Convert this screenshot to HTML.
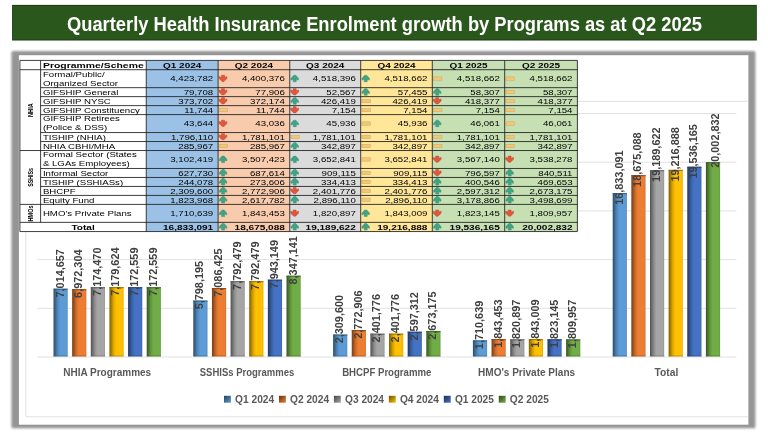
<!DOCTYPE html>
<html lang="en"><head><meta charset="utf-8"><title>Quarterly Health Insurance Enrolment growth by Programs as at Q2 2025</title><style>html,body{margin:0;padding:0;background:#fff;overflow:hidden}svg{display:block}</style></head><body>
<svg width="768" height="432" viewBox="0 0 768 432" font-family="'Liberation Sans', sans-serif">
<defs>
<filter id="soft" x="0" y="0" width="100%" height="100%" filterUnits="userSpaceOnUse"><feGaussianBlur stdDeviation="0.35"/></filter>
<filter id="sb" x="-5%" y="-5%" width="110%" height="110%"><feGaussianBlur stdDeviation="0.9"/></filter>

<linearGradient id="q1" x1="0" x2="1" y1="0" y2="0"><stop offset="0" stop-color="#2d4d6a"/><stop offset="0.1" stop-color="#386084"/><stop offset="0.28" stop-color="#4e85b7"/><stop offset="0.46" stop-color="#5b9bd5"/><stop offset="0.9" stop-color="#5b9bd5"/><stop offset="1" stop-color="#518bbf"/></linearGradient>
<linearGradient id="q2" x1="0" x2="1" y1="0" y2="0"><stop offset="0" stop-color="#763e18"/><stop offset="0.1" stop-color="#924d1e"/><stop offset="0.28" stop-color="#cb6b2a"/><stop offset="0.46" stop-color="#ed7d31"/><stop offset="0.9" stop-color="#ed7d31"/><stop offset="1" stop-color="#d5702c"/></linearGradient>
<linearGradient id="q3" x1="0" x2="1" y1="0" y2="0"><stop offset="0" stop-color="#525252"/><stop offset="0.1" stop-color="#666666"/><stop offset="0.28" stop-color="#8d8d8d"/><stop offset="0.46" stop-color="#a5a5a5"/><stop offset="0.9" stop-color="#a5a5a5"/><stop offset="1" stop-color="#949494"/></linearGradient>
<linearGradient id="q4" x1="0" x2="1" y1="0" y2="0"><stop offset="0" stop-color="#7f6000"/><stop offset="0.1" stop-color="#9e7700"/><stop offset="0.28" stop-color="#dba500"/><stop offset="0.46" stop-color="#ffc000"/><stop offset="0.9" stop-color="#ffc000"/><stop offset="1" stop-color="#e5ac00"/></linearGradient>
<linearGradient id="q5" x1="0" x2="1" y1="0" y2="0"><stop offset="0" stop-color="#223962"/><stop offset="0.1" stop-color="#2a4679"/><stop offset="0.28" stop-color="#3a62a8"/><stop offset="0.46" stop-color="#4472c4"/><stop offset="0.9" stop-color="#4472c4"/><stop offset="1" stop-color="#3d66b0"/></linearGradient>
<linearGradient id="q6" x1="0" x2="1" y1="0" y2="0"><stop offset="0" stop-color="#385623"/><stop offset="0.1" stop-color="#456b2c"/><stop offset="0.28" stop-color="#60943d"/><stop offset="0.46" stop-color="#70ad47"/><stop offset="0.9" stop-color="#70ad47"/><stop offset="1" stop-color="#649b3f"/></linearGradient>
<linearGradient id="mq1" x1="0" x2="1" y1="0" y2="1"><stop offset="0" stop-color="#264159"/><stop offset="1" stop-color="#5b9bd5"/></linearGradient>
<linearGradient id="mq2" x1="0" x2="1" y1="0" y2="1"><stop offset="0" stop-color="#633414"/><stop offset="1" stop-color="#ed7d31"/></linearGradient>
<linearGradient id="mq3" x1="0" x2="1" y1="0" y2="1"><stop offset="0" stop-color="#454545"/><stop offset="1" stop-color="#a5a5a5"/></linearGradient>
<linearGradient id="mq4" x1="0" x2="1" y1="0" y2="1"><stop offset="0" stop-color="#6b5000"/><stop offset="1" stop-color="#ffc000"/></linearGradient>
<linearGradient id="mq5" x1="0" x2="1" y1="0" y2="1"><stop offset="0" stop-color="#1c2f52"/><stop offset="1" stop-color="#4472c4"/></linearGradient>
<linearGradient id="mq6" x1="0" x2="1" y1="0" y2="1"><stop offset="0" stop-color="#2f481d"/><stop offset="1" stop-color="#70ad47"/></linearGradient>
</defs>
<rect width="768" height="432" fill="#fff"/>
<g filter="url(#soft)">
<rect x="12.1" y="4.9" width="744.7" height="35.6" fill="#1a3311"/>
<rect x="13" y="5.8" width="742.9" height="33.8" fill="#2c591d"/>
<text x="67.00" y="31.30" font-size="20" font-weight="bold" fill="#fff" textLength="635.00" lengthAdjust="spacingAndGlyphs">Quarterly Health Insurance Enrolment growth by Programs as at Q2 2025</text>
<rect x="11.4" y="51.0" width="744.0" height="377.2" rx="1.5" fill="#959595" filter="url(#sb)"/>
<rect x="18.9" y="55.2" width="729.5" height="369.5" fill="#fff"/>
<path d="M748.4 101.3 H25.8 V416.8 H748.4" fill="none" stroke="#d9d9d9" stroke-width="0.8"/>
<line x1="37.3" x2="736.3" y1="357.00" y2="357.00" stroke="#d9d9d9" stroke-width="0.8"/>
<line x1="37.3" x2="736.3" y1="308.30" y2="308.30" stroke="#d9d9d9" stroke-width="0.8"/>
<line x1="37.3" x2="736.3" y1="259.60" y2="259.60" stroke="#d9d9d9" stroke-width="0.8"/>
<line x1="37.3" x2="736.3" y1="210.90" y2="210.90" stroke="#d9d9d9" stroke-width="0.8"/>
<line x1="37.3" x2="736.3" y1="162.20" y2="162.20" stroke="#d9d9d9" stroke-width="0.8"/>
<line x1="37.3" x2="736.3" y1="113.50" y2="113.50" stroke="#d9d9d9" stroke-width="0.8"/>
<text x="63.20" y="375.70" font-size="10.2" font-weight="bold" fill="#595959" textLength="88.00" lengthAdjust="spacingAndGlyphs">NHIA Programmes</text>
<text x="199.75" y="375.70" font-size="10.2" font-weight="bold" fill="#595959" textLength="94.50" lengthAdjust="spacingAndGlyphs">SSHISs Programmes</text>
<text x="342.18" y="375.70" font-size="10.2" font-weight="bold" fill="#595959" textLength="89.25" lengthAdjust="spacingAndGlyphs">BHCPF Programme</text>
<text x="478.10" y="375.70" font-size="10.2" font-weight="bold" fill="#595959" textLength="97.00" lengthAdjust="spacingAndGlyphs">HMO's Private Plans</text>
<text x="654.52" y="375.70" font-size="10.2" font-weight="bold" fill="#595959" textLength="23.75" lengthAdjust="spacingAndGlyphs">Total</text>
<rect x="53.50" y="288.68" width="14.2" height="67.72" fill="url(#q1)"/><rect x="53.50" y="288.68" width="14.2" height="1.1" fill="#325575" opacity="0.8"/><rect x="53.50" y="355.50" width="14.2" height="0.9" fill="#365d7f" opacity="0.6"/>
<rect x="72.14" y="289.09" width="14.2" height="67.31" fill="url(#q2)"/><rect x="72.14" y="289.09" width="14.2" height="1.1" fill="#82441a" opacity="0.8"/><rect x="72.14" y="355.50" width="14.2" height="0.9" fill="#8e4b1d" opacity="0.6"/>
<rect x="90.78" y="287.12" width="14.2" height="69.28" fill="url(#q3)"/><rect x="90.78" y="287.12" width="14.2" height="1.1" fill="#5a5a5a" opacity="0.8"/><rect x="90.78" y="355.50" width="14.2" height="0.9" fill="#636363" opacity="0.6"/>
<rect x="109.42" y="287.07" width="14.2" height="69.33" fill="url(#q4)"/><rect x="109.42" y="287.07" width="14.2" height="1.1" fill="#8c6900" opacity="0.8"/><rect x="109.42" y="355.50" width="14.2" height="0.9" fill="#997300" opacity="0.6"/>
<rect x="128.06" y="287.14" width="14.2" height="69.26" fill="url(#q5)"/><rect x="128.06" y="287.14" width="14.2" height="1.1" fill="#253e6b" opacity="0.8"/><rect x="128.06" y="355.50" width="14.2" height="0.9" fill="#284475" opacity="0.6"/>
<rect x="146.70" y="287.14" width="14.2" height="69.26" fill="url(#q6)"/><rect x="146.70" y="287.14" width="14.2" height="1.1" fill="#3d5f27" opacity="0.8"/><rect x="146.70" y="355.50" width="14.2" height="0.9" fill="#43672a" opacity="0.6"/>
<rect x="193.30" y="300.53" width="14.2" height="55.87" fill="url(#q1)"/><rect x="193.30" y="300.53" width="14.2" height="1.1" fill="#325575" opacity="0.8"/><rect x="193.30" y="355.50" width="14.2" height="0.9" fill="#365d7f" opacity="0.6"/>
<rect x="211.94" y="287.98" width="14.2" height="68.42" fill="url(#q2)"/><rect x="211.94" y="287.98" width="14.2" height="1.1" fill="#82441a" opacity="0.8"/><rect x="211.94" y="355.50" width="14.2" height="0.9" fill="#8e4b1d" opacity="0.6"/>
<rect x="230.58" y="281.10" width="14.2" height="75.30" fill="url(#q3)"/><rect x="230.58" y="281.10" width="14.2" height="1.1" fill="#5a5a5a" opacity="0.8"/><rect x="230.58" y="355.50" width="14.2" height="0.9" fill="#636363" opacity="0.6"/>
<rect x="249.22" y="281.10" width="14.2" height="75.30" fill="url(#q4)"/><rect x="249.22" y="281.10" width="14.2" height="1.1" fill="#8c6900" opacity="0.8"/><rect x="249.22" y="355.50" width="14.2" height="0.9" fill="#997300" opacity="0.6"/>
<rect x="267.86" y="279.63" width="14.2" height="76.77" fill="url(#q5)"/><rect x="267.86" y="279.63" width="14.2" height="1.1" fill="#253e6b" opacity="0.8"/><rect x="267.86" y="355.50" width="14.2" height="0.9" fill="#284475" opacity="0.6"/>
<rect x="286.50" y="275.70" width="14.2" height="80.70" fill="url(#q6)"/><rect x="286.50" y="275.70" width="14.2" height="1.1" fill="#3d5f27" opacity="0.8"/><rect x="286.50" y="355.50" width="14.2" height="0.9" fill="#43672a" opacity="0.6"/>
<rect x="333.10" y="334.50" width="14.2" height="21.90" fill="url(#q1)"/><rect x="333.10" y="334.50" width="14.2" height="1.1" fill="#325575" opacity="0.8"/><rect x="333.10" y="355.50" width="14.2" height="0.9" fill="#365d7f" opacity="0.6"/>
<rect x="351.74" y="329.99" width="14.2" height="26.41" fill="url(#q2)"/><rect x="351.74" y="329.99" width="14.2" height="1.1" fill="#82441a" opacity="0.8"/><rect x="351.74" y="355.50" width="14.2" height="0.9" fill="#8e4b1d" opacity="0.6"/>
<rect x="370.38" y="333.61" width="14.2" height="22.79" fill="url(#q3)"/><rect x="370.38" y="333.61" width="14.2" height="1.1" fill="#5a5a5a" opacity="0.8"/><rect x="370.38" y="355.50" width="14.2" height="0.9" fill="#636363" opacity="0.6"/>
<rect x="389.02" y="333.61" width="14.2" height="22.79" fill="url(#q4)"/><rect x="389.02" y="333.61" width="14.2" height="1.1" fill="#8c6900" opacity="0.8"/><rect x="389.02" y="355.50" width="14.2" height="0.9" fill="#997300" opacity="0.6"/>
<rect x="407.66" y="331.70" width="14.2" height="24.70" fill="url(#q5)"/><rect x="407.66" y="331.70" width="14.2" height="1.1" fill="#253e6b" opacity="0.8"/><rect x="407.66" y="355.50" width="14.2" height="0.9" fill="#284475" opacity="0.6"/>
<rect x="426.30" y="330.96" width="14.2" height="25.44" fill="url(#q6)"/><rect x="426.30" y="330.96" width="14.2" height="1.1" fill="#3d5f27" opacity="0.8"/><rect x="426.30" y="355.50" width="14.2" height="0.9" fill="#43672a" opacity="0.6"/>
<rect x="472.90" y="340.34" width="14.2" height="16.06" fill="url(#q1)"/><rect x="472.90" y="340.34" width="14.2" height="1.1" fill="#325575" opacity="0.8"/><rect x="472.90" y="355.50" width="14.2" height="0.9" fill="#365d7f" opacity="0.6"/>
<rect x="491.54" y="339.04" width="14.2" height="17.36" fill="url(#q2)"/><rect x="491.54" y="339.04" width="14.2" height="1.1" fill="#82441a" opacity="0.8"/><rect x="491.54" y="355.50" width="14.2" height="0.9" fill="#8e4b1d" opacity="0.6"/>
<rect x="510.18" y="339.26" width="14.2" height="17.14" fill="url(#q3)"/><rect x="510.18" y="339.26" width="14.2" height="1.1" fill="#5a5a5a" opacity="0.8"/><rect x="510.18" y="355.50" width="14.2" height="0.9" fill="#636363" opacity="0.6"/>
<rect x="528.82" y="339.05" width="14.2" height="17.35" fill="url(#q4)"/><rect x="528.82" y="339.05" width="14.2" height="1.1" fill="#8c6900" opacity="0.8"/><rect x="528.82" y="355.50" width="14.2" height="0.9" fill="#997300" opacity="0.6"/>
<rect x="547.46" y="339.24" width="14.2" height="17.16" fill="url(#q5)"/><rect x="547.46" y="339.24" width="14.2" height="1.1" fill="#253e6b" opacity="0.8"/><rect x="547.46" y="355.50" width="14.2" height="0.9" fill="#284475" opacity="0.6"/>
<rect x="566.10" y="339.37" width="14.2" height="17.03" fill="url(#q6)"/><rect x="566.10" y="339.37" width="14.2" height="1.1" fill="#3d5f27" opacity="0.8"/><rect x="566.10" y="355.50" width="14.2" height="0.9" fill="#43672a" opacity="0.6"/>
<rect x="612.70" y="193.05" width="14.2" height="163.35" fill="url(#q1)"/><rect x="612.70" y="193.05" width="14.2" height="1.1" fill="#325575" opacity="0.8"/><rect x="612.70" y="355.50" width="14.2" height="0.9" fill="#365d7f" opacity="0.6"/>
<rect x="631.34" y="175.10" width="14.2" height="181.30" fill="url(#q2)"/><rect x="631.34" y="175.10" width="14.2" height="1.1" fill="#82441a" opacity="0.8"/><rect x="631.34" y="355.50" width="14.2" height="0.9" fill="#8e4b1d" opacity="0.6"/>
<rect x="649.98" y="170.09" width="14.2" height="186.31" fill="url(#q3)"/><rect x="649.98" y="170.09" width="14.2" height="1.1" fill="#5a5a5a" opacity="0.8"/><rect x="649.98" y="355.50" width="14.2" height="0.9" fill="#636363" opacity="0.6"/>
<rect x="668.62" y="169.83" width="14.2" height="186.57" fill="url(#q4)"/><rect x="668.62" y="169.83" width="14.2" height="1.1" fill="#8c6900" opacity="0.8"/><rect x="668.62" y="355.50" width="14.2" height="0.9" fill="#997300" opacity="0.6"/>
<rect x="687.26" y="166.72" width="14.2" height="189.68" fill="url(#q5)"/><rect x="687.26" y="166.72" width="14.2" height="1.1" fill="#253e6b" opacity="0.8"/><rect x="687.26" y="355.50" width="14.2" height="0.9" fill="#284475" opacity="0.6"/>
<rect x="705.90" y="162.17" width="14.2" height="194.23" fill="url(#q6)"/><rect x="705.90" y="162.17" width="14.2" height="1.1" fill="#3d5f27" opacity="0.8"/><rect x="705.90" y="355.50" width="14.2" height="0.9" fill="#43672a" opacity="0.6"/>
<text transform="translate(63.55 273.28) rotate(-90)" x="-24.19" y="0" font-size="10.2" font-weight="bold" fill="#404040" textLength="48.37" lengthAdjust="spacingAndGlyphs">7,014,657</text>
<text transform="translate(82.19 273.69) rotate(-90)" x="-24.19" y="0" font-size="10.2" font-weight="bold" fill="#404040" textLength="48.37" lengthAdjust="spacingAndGlyphs">6,972,304</text>
<text transform="translate(100.83 271.72) rotate(-90)" x="-24.19" y="0" font-size="10.2" font-weight="bold" fill="#404040" textLength="48.37" lengthAdjust="spacingAndGlyphs">7,174,470</text>
<text transform="translate(119.47 271.67) rotate(-90)" x="-24.19" y="0" font-size="10.2" font-weight="bold" fill="#404040" textLength="48.37" lengthAdjust="spacingAndGlyphs">7,179,624</text>
<text transform="translate(138.11 271.74) rotate(-90)" x="-24.19" y="0" font-size="10.2" font-weight="bold" fill="#404040" textLength="48.37" lengthAdjust="spacingAndGlyphs">7,172,559</text>
<text transform="translate(156.75 271.74) rotate(-90)" x="-24.19" y="0" font-size="10.2" font-weight="bold" fill="#404040" textLength="48.37" lengthAdjust="spacingAndGlyphs">7,172,559</text>
<text transform="translate(203.35 285.13) rotate(-90)" x="-24.19" y="0" font-size="10.2" font-weight="bold" fill="#404040" textLength="48.37" lengthAdjust="spacingAndGlyphs">5,798,195</text>
<text transform="translate(221.99 272.58) rotate(-90)" x="-24.19" y="0" font-size="10.2" font-weight="bold" fill="#404040" textLength="48.37" lengthAdjust="spacingAndGlyphs">7,086,425</text>
<text transform="translate(240.63 265.70) rotate(-90)" x="-24.19" y="0" font-size="10.2" font-weight="bold" fill="#404040" textLength="48.37" lengthAdjust="spacingAndGlyphs">7,792,479</text>
<text transform="translate(259.27 265.70) rotate(-90)" x="-24.19" y="0" font-size="10.2" font-weight="bold" fill="#404040" textLength="48.37" lengthAdjust="spacingAndGlyphs">7,792,479</text>
<text transform="translate(277.91 264.23) rotate(-90)" x="-24.19" y="0" font-size="10.2" font-weight="bold" fill="#404040" textLength="48.37" lengthAdjust="spacingAndGlyphs">7,943,149</text>
<text transform="translate(296.55 260.30) rotate(-90)" x="-24.19" y="0" font-size="10.2" font-weight="bold" fill="#404040" textLength="48.37" lengthAdjust="spacingAndGlyphs">8,347,141</text>
<text transform="translate(343.15 319.10) rotate(-90)" x="-24.19" y="0" font-size="10.2" font-weight="bold" fill="#404040" textLength="48.37" lengthAdjust="spacingAndGlyphs">2,309,600</text>
<text transform="translate(361.79 314.59) rotate(-90)" x="-24.19" y="0" font-size="10.2" font-weight="bold" fill="#404040" textLength="48.37" lengthAdjust="spacingAndGlyphs">2,772,906</text>
<text transform="translate(380.43 318.21) rotate(-90)" x="-24.19" y="0" font-size="10.2" font-weight="bold" fill="#404040" textLength="48.37" lengthAdjust="spacingAndGlyphs">2,401,776</text>
<text transform="translate(399.07 318.21) rotate(-90)" x="-24.19" y="0" font-size="10.2" font-weight="bold" fill="#404040" textLength="48.37" lengthAdjust="spacingAndGlyphs">2,401,776</text>
<text transform="translate(417.71 316.30) rotate(-90)" x="-24.19" y="0" font-size="10.2" font-weight="bold" fill="#404040" textLength="48.37" lengthAdjust="spacingAndGlyphs">2,597,312</text>
<text transform="translate(436.35 315.56) rotate(-90)" x="-24.19" y="0" font-size="10.2" font-weight="bold" fill="#404040" textLength="48.37" lengthAdjust="spacingAndGlyphs">2,673,175</text>
<text transform="translate(482.95 324.94) rotate(-90)" x="-24.19" y="0" font-size="10.2" font-weight="bold" fill="#404040" textLength="48.37" lengthAdjust="spacingAndGlyphs">1,710,639</text>
<text transform="translate(501.59 323.64) rotate(-90)" x="-24.19" y="0" font-size="10.2" font-weight="bold" fill="#404040" textLength="48.37" lengthAdjust="spacingAndGlyphs">1,843,453</text>
<text transform="translate(520.23 323.86) rotate(-90)" x="-24.19" y="0" font-size="10.2" font-weight="bold" fill="#404040" textLength="48.37" lengthAdjust="spacingAndGlyphs">1,820,897</text>
<text transform="translate(538.87 323.65) rotate(-90)" x="-24.19" y="0" font-size="10.2" font-weight="bold" fill="#404040" textLength="48.37" lengthAdjust="spacingAndGlyphs">1,843,009</text>
<text transform="translate(557.51 323.84) rotate(-90)" x="-24.19" y="0" font-size="10.2" font-weight="bold" fill="#404040" textLength="48.37" lengthAdjust="spacingAndGlyphs">1,823,145</text>
<text transform="translate(576.15 323.97) rotate(-90)" x="-24.19" y="0" font-size="10.2" font-weight="bold" fill="#404040" textLength="48.37" lengthAdjust="spacingAndGlyphs">1,809,957</text>
<text transform="translate(622.75 177.65) rotate(-90)" x="-27.20" y="0" font-size="10.2" font-weight="bold" fill="#404040" textLength="54.41" lengthAdjust="spacingAndGlyphs">16,833,091</text>
<text transform="translate(641.39 159.70) rotate(-90)" x="-27.20" y="0" font-size="10.2" font-weight="bold" fill="#404040" textLength="54.41" lengthAdjust="spacingAndGlyphs">18,675,088</text>
<text transform="translate(660.03 154.69) rotate(-90)" x="-27.20" y="0" font-size="10.2" font-weight="bold" fill="#404040" textLength="54.41" lengthAdjust="spacingAndGlyphs">19,189,622</text>
<text transform="translate(678.67 154.43) rotate(-90)" x="-27.20" y="0" font-size="10.2" font-weight="bold" fill="#404040" textLength="54.41" lengthAdjust="spacingAndGlyphs">19,216,888</text>
<text transform="translate(697.31 151.32) rotate(-90)" x="-27.20" y="0" font-size="10.2" font-weight="bold" fill="#404040" textLength="54.41" lengthAdjust="spacingAndGlyphs">19,536,165</text>
<text transform="translate(719.15 140.60) rotate(-90)" x="-27.20" y="0" font-size="10.2" font-weight="bold" fill="#404040" textLength="54.41" lengthAdjust="spacingAndGlyphs">20,002,832</text>
<rect x="224.00" y="395.8" width="6.9" height="6.9" fill="url(#mq1)"/>
<text x="235.10" y="403.00" font-size="10.2" font-weight="bold" fill="#595959" textLength="39.00" lengthAdjust="spacingAndGlyphs">Q1 2024</text>
<rect x="278.95" y="395.8" width="6.9" height="6.9" fill="url(#mq2)"/>
<text x="290.05" y="403.00" font-size="10.2" font-weight="bold" fill="#595959" textLength="39.00" lengthAdjust="spacingAndGlyphs">Q2 2024</text>
<rect x="333.90" y="395.8" width="6.9" height="6.9" fill="url(#mq3)"/>
<text x="345.00" y="403.00" font-size="10.2" font-weight="bold" fill="#595959" textLength="39.00" lengthAdjust="spacingAndGlyphs">Q3 2024</text>
<rect x="388.85" y="395.8" width="6.9" height="6.9" fill="url(#mq4)"/>
<text x="399.95" y="403.00" font-size="10.2" font-weight="bold" fill="#595959" textLength="39.00" lengthAdjust="spacingAndGlyphs">Q4 2024</text>
<rect x="443.80" y="395.8" width="6.9" height="6.9" fill="url(#mq5)"/>
<text x="454.90" y="403.00" font-size="10.2" font-weight="bold" fill="#595959" textLength="39.00" lengthAdjust="spacingAndGlyphs">Q1 2025</text>
<rect x="498.75" y="395.8" width="6.9" height="6.9" fill="url(#mq6)"/>
<text x="509.85" y="403.00" font-size="10.2" font-weight="bold" fill="#595959" textLength="39.00" lengthAdjust="spacingAndGlyphs">Q2 2025</text>
<rect x="19.9" y="60.4" width="126.35" height="171.16" fill="#fff"/>
<rect x="146.25" y="60.4" width="71.85" height="171.16" fill="#9bc2e6"/>
<rect x="218.1" y="60.4" width="71.65" height="171.16" fill="#f8cbad"/>
<rect x="289.75" y="60.4" width="70.95" height="171.16" fill="#dbdbdb"/>
<rect x="360.7" y="60.4" width="71.60" height="171.16" fill="#ffe699"/>
<rect x="432.3" y="60.4" width="72.40" height="171.16" fill="#c6e0b4"/>
<rect x="504.7" y="60.4" width="72.70" height="171.16" fill="#c6e0b4"/>
<text x="43.00" y="67.80" font-size="7.8999999999999995" font-weight="bold" fill="#000" textLength="100.70" lengthAdjust="spacingAndGlyphs">Programme/Scheme</text>
<text x="163.08" y="67.80" font-size="7.8999999999999995" font-weight="bold" fill="#000" textLength="38.20" lengthAdjust="spacingAndGlyphs">Q1 2024</text>
<text x="234.83" y="67.80" font-size="7.8999999999999995" font-weight="bold" fill="#000" textLength="38.20" lengthAdjust="spacingAndGlyphs">Q2 2024</text>
<text x="306.12" y="67.80" font-size="7.8999999999999995" font-weight="bold" fill="#000" textLength="38.20" lengthAdjust="spacingAndGlyphs">Q3 2024</text>
<text x="377.40" y="67.80" font-size="7.8999999999999995" font-weight="bold" fill="#000" textLength="38.20" lengthAdjust="spacingAndGlyphs">Q4 2024</text>
<text x="449.40" y="67.80" font-size="7.8999999999999995" font-weight="bold" fill="#000" textLength="38.20" lengthAdjust="spacingAndGlyphs">Q1 2025</text>
<text x="521.95" y="67.80" font-size="7.8999999999999995" font-weight="bold" fill="#000" textLength="38.20" lengthAdjust="spacingAndGlyphs">Q2 2025</text>
<text x="42.90" y="76.58" font-size="7.6" fill="#000" textLength="61.68" lengthAdjust="spacingAndGlyphs">Formal/Public/</text>
<text x="42.90" y="85.56" font-size="7.6" fill="#000" textLength="75.11" lengthAdjust="spacingAndGlyphs">Organized Sector</text>
<text x="170.26" y="81.28" font-size="7.6" fill="#000" textLength="42.94" lengthAdjust="spacingAndGlyphs">4,423,782</text>
<text x="241.91" y="81.28" font-size="7.6" fill="#000" textLength="42.94" lengthAdjust="spacingAndGlyphs">4,400,376</text>
<path transform="translate(223.00 78.28)" d="M-1.5 -3.0 L-1.5 -0.9 L-3.9 -1.7 L-3.9 0.2 L-0.9 3.2 L0.9 3.2 L3.9 0.2 L3.9 -1.7 L1.5 -0.9 L1.5 -3.0 Z" fill="#e4553a" stroke="#b9492c" stroke-width="0.5" stroke-linejoin="round"/>
<text x="312.86" y="81.28" font-size="7.6" fill="#000" textLength="42.94" lengthAdjust="spacingAndGlyphs">4,518,396</text>
<path transform="translate(294.75 78.48)" d="M-1.5 3.3 L-1.5 0.9 L-3.7 1.6 L-3.7 -0.2 L-1.0 -3.2 L1.0 -3.2 L3.7 -0.2 L3.7 1.6 L1.5 0.9 L1.5 3.3 Z" fill="#3fa483" stroke="#3a8f78" stroke-width="0.5" stroke-linejoin="round"/>
<text x="384.46" y="81.28" font-size="7.6" fill="#000" textLength="42.94" lengthAdjust="spacingAndGlyphs">4,518,662</text>
<path transform="translate(365.70 78.48)" d="M-1.5 3.3 L-1.5 0.9 L-3.7 1.6 L-3.7 -0.2 L-1.0 -3.2 L1.0 -3.2 L3.7 -0.2 L3.7 1.6 L1.5 0.9 L1.5 3.3 Z" fill="#3fa483" stroke="#3a8f78" stroke-width="0.5" stroke-linejoin="round"/>
<text x="456.86" y="81.28" font-size="7.6" fill="#000" textLength="42.94" lengthAdjust="spacingAndGlyphs">4,518,662</text>
<rect x="433.50" y="76.93" width="8.4" height="3.4" fill="#f1c873" stroke="#cfa566" stroke-width="0.5"/>
<text x="529.56" y="81.28" font-size="7.6" fill="#000" textLength="42.94" lengthAdjust="spacingAndGlyphs">4,518,662</text>
<rect x="505.90" y="76.93" width="8.4" height="3.4" fill="#f1c873" stroke="#cfa566" stroke-width="0.5"/>
<text x="42.90" y="94.94" font-size="7.6" fill="#000" textLength="75.46" lengthAdjust="spacingAndGlyphs">GIFSHIP General</text>
<text x="183.68" y="94.75" font-size="7.6" fill="#000" textLength="29.52" lengthAdjust="spacingAndGlyphs">79,708</text>
<text x="255.33" y="94.75" font-size="7.6" fill="#000" textLength="29.52" lengthAdjust="spacingAndGlyphs">77,906</text>
<path transform="translate(223.00 91.75)" d="M-1.5 -3.0 L-1.5 -0.9 L-3.9 -1.7 L-3.9 0.2 L-0.9 3.2 L0.9 3.2 L3.9 0.2 L3.9 -1.7 L1.5 -0.9 L1.5 -3.0 Z" fill="#e4553a" stroke="#b9492c" stroke-width="0.5" stroke-linejoin="round"/>
<text x="326.28" y="94.75" font-size="7.6" fill="#000" textLength="29.52" lengthAdjust="spacingAndGlyphs">52,567</text>
<path transform="translate(294.65 91.75)" d="M-1.5 -3.0 L-1.5 -0.9 L-3.9 -1.7 L-3.9 0.2 L-0.9 3.2 L0.9 3.2 L3.9 0.2 L3.9 -1.7 L1.5 -0.9 L1.5 -3.0 Z" fill="#e4553a" stroke="#b9492c" stroke-width="0.5" stroke-linejoin="round"/>
<text x="397.88" y="94.75" font-size="7.6" fill="#000" textLength="29.52" lengthAdjust="spacingAndGlyphs">57,455</text>
<path transform="translate(365.70 91.95)" d="M-1.5 3.3 L-1.5 0.9 L-3.7 1.6 L-3.7 -0.2 L-1.0 -3.2 L1.0 -3.2 L3.7 -0.2 L3.7 1.6 L1.5 0.9 L1.5 3.3 Z" fill="#3fa483" stroke="#3a8f78" stroke-width="0.5" stroke-linejoin="round"/>
<text x="470.28" y="94.75" font-size="7.6" fill="#000" textLength="29.52" lengthAdjust="spacingAndGlyphs">58,307</text>
<path transform="translate(437.30 91.95)" d="M-1.5 3.3 L-1.5 0.9 L-3.7 1.6 L-3.7 -0.2 L-1.0 -3.2 L1.0 -3.2 L3.7 -0.2 L3.7 1.6 L1.5 0.9 L1.5 3.3 Z" fill="#3fa483" stroke="#3a8f78" stroke-width="0.5" stroke-linejoin="round"/>
<text x="542.98" y="94.75" font-size="7.6" fill="#000" textLength="29.52" lengthAdjust="spacingAndGlyphs">58,307</text>
<rect x="505.90" y="90.40" width="8.4" height="3.4" fill="#f1c873" stroke="#cfa566" stroke-width="0.5"/>
<text x="42.90" y="103.92" font-size="7.6" fill="#000" textLength="67.94" lengthAdjust="spacingAndGlyphs">GIFSHIP NYSC</text>
<text x="178.31" y="103.73" font-size="7.6" fill="#000" textLength="34.89" lengthAdjust="spacingAndGlyphs">373,702</text>
<text x="249.96" y="103.73" font-size="7.6" fill="#000" textLength="34.89" lengthAdjust="spacingAndGlyphs">372,174</text>
<path transform="translate(223.00 100.73)" d="M-1.5 -3.0 L-1.5 -0.9 L-3.9 -1.7 L-3.9 0.2 L-0.9 3.2 L0.9 3.2 L3.9 0.2 L3.9 -1.7 L1.5 -0.9 L1.5 -3.0 Z" fill="#e4553a" stroke="#b9492c" stroke-width="0.5" stroke-linejoin="round"/>
<text x="320.91" y="103.73" font-size="7.6" fill="#000" textLength="34.89" lengthAdjust="spacingAndGlyphs">426,419</text>
<path transform="translate(294.75 100.93)" d="M-1.5 3.3 L-1.5 0.9 L-3.7 1.6 L-3.7 -0.2 L-1.0 -3.2 L1.0 -3.2 L3.7 -0.2 L3.7 1.6 L1.5 0.9 L1.5 3.3 Z" fill="#3fa483" stroke="#3a8f78" stroke-width="0.5" stroke-linejoin="round"/>
<text x="392.51" y="103.73" font-size="7.6" fill="#000" textLength="34.89" lengthAdjust="spacingAndGlyphs">426,419</text>
<rect x="361.90" y="99.38" width="8.4" height="3.4" fill="#f1c873" stroke="#cfa566" stroke-width="0.5"/>
<text x="464.91" y="103.73" font-size="7.6" fill="#000" textLength="34.89" lengthAdjust="spacingAndGlyphs">418,377</text>
<path transform="translate(437.20 100.73)" d="M-1.5 -3.0 L-1.5 -0.9 L-3.9 -1.7 L-3.9 0.2 L-0.9 3.2 L0.9 3.2 L3.9 0.2 L3.9 -1.7 L1.5 -0.9 L1.5 -3.0 Z" fill="#e4553a" stroke="#b9492c" stroke-width="0.5" stroke-linejoin="round"/>
<text x="537.61" y="103.73" font-size="7.6" fill="#000" textLength="34.89" lengthAdjust="spacingAndGlyphs">418,377</text>
<rect x="505.90" y="99.38" width="8.4" height="3.4" fill="#f1c873" stroke="#cfa566" stroke-width="0.5"/>
<text x="42.90" y="112.90" font-size="7.6" fill="#000" textLength="96.92" lengthAdjust="spacingAndGlyphs">GIFSHIP Constituency</text>
<text x="184.39" y="112.71" font-size="7.6" fill="#000" textLength="28.81" lengthAdjust="spacingAndGlyphs">11,744</text>
<text x="256.04" y="112.71" font-size="7.6" fill="#000" textLength="28.81" lengthAdjust="spacingAndGlyphs">11,744</text>
<rect x="219.30" y="108.36" width="8.4" height="3.4" fill="#f1c873" stroke="#cfa566" stroke-width="0.5"/>
<text x="331.65" y="112.71" font-size="7.6" fill="#000" textLength="24.15" lengthAdjust="spacingAndGlyphs">7,154</text>
<path transform="translate(294.65 109.71)" d="M-1.5 -3.0 L-1.5 -0.9 L-3.9 -1.7 L-3.9 0.2 L-0.9 3.2 L0.9 3.2 L3.9 0.2 L3.9 -1.7 L1.5 -0.9 L1.5 -3.0 Z" fill="#e4553a" stroke="#b9492c" stroke-width="0.5" stroke-linejoin="round"/>
<text x="403.25" y="112.71" font-size="7.6" fill="#000" textLength="24.15" lengthAdjust="spacingAndGlyphs">7,154</text>
<rect x="361.90" y="108.36" width="8.4" height="3.4" fill="#f1c873" stroke="#cfa566" stroke-width="0.5"/>
<text x="475.65" y="112.71" font-size="7.6" fill="#000" textLength="24.15" lengthAdjust="spacingAndGlyphs">7,154</text>
<rect x="433.50" y="108.36" width="8.4" height="3.4" fill="#f1c873" stroke="#cfa566" stroke-width="0.5"/>
<text x="548.35" y="112.71" font-size="7.6" fill="#000" textLength="24.15" lengthAdjust="spacingAndGlyphs">7,154</text>
<rect x="505.90" y="108.36" width="8.4" height="3.4" fill="#f1c873" stroke="#cfa566" stroke-width="0.5"/>
<text x="42.90" y="121.48" font-size="7.6" fill="#000" textLength="77.06" lengthAdjust="spacingAndGlyphs">GIFSHIP Retirees</text>
<text x="42.90" y="130.46" font-size="7.6" fill="#000" textLength="64.36" lengthAdjust="spacingAndGlyphs">(Police &amp; DSS)</text>
<text x="183.68" y="126.18" font-size="7.6" fill="#000" textLength="29.52" lengthAdjust="spacingAndGlyphs">43,644</text>
<text x="255.33" y="126.18" font-size="7.6" fill="#000" textLength="29.52" lengthAdjust="spacingAndGlyphs">43,036</text>
<path transform="translate(223.00 123.18)" d="M-1.5 -3.0 L-1.5 -0.9 L-3.9 -1.7 L-3.9 0.2 L-0.9 3.2 L0.9 3.2 L3.9 0.2 L3.9 -1.7 L1.5 -0.9 L1.5 -3.0 Z" fill="#e4553a" stroke="#b9492c" stroke-width="0.5" stroke-linejoin="round"/>
<text x="326.28" y="126.18" font-size="7.6" fill="#000" textLength="29.52" lengthAdjust="spacingAndGlyphs">45,936</text>
<path transform="translate(294.75 123.38)" d="M-1.5 3.3 L-1.5 0.9 L-3.7 1.6 L-3.7 -0.2 L-1.0 -3.2 L1.0 -3.2 L3.7 -0.2 L3.7 1.6 L1.5 0.9 L1.5 3.3 Z" fill="#3fa483" stroke="#3a8f78" stroke-width="0.5" stroke-linejoin="round"/>
<text x="397.88" y="126.18" font-size="7.6" fill="#000" textLength="29.52" lengthAdjust="spacingAndGlyphs">45,936</text>
<rect x="361.90" y="121.83" width="8.4" height="3.4" fill="#f1c873" stroke="#cfa566" stroke-width="0.5"/>
<text x="470.28" y="126.18" font-size="7.6" fill="#000" textLength="29.52" lengthAdjust="spacingAndGlyphs">46,061</text>
<path transform="translate(437.30 123.38)" d="M-1.5 3.3 L-1.5 0.9 L-3.7 1.6 L-3.7 -0.2 L-1.0 -3.2 L1.0 -3.2 L3.7 -0.2 L3.7 1.6 L1.5 0.9 L1.5 3.3 Z" fill="#3fa483" stroke="#3a8f78" stroke-width="0.5" stroke-linejoin="round"/>
<text x="542.98" y="126.18" font-size="7.6" fill="#000" textLength="29.52" lengthAdjust="spacingAndGlyphs">46,061</text>
<rect x="505.90" y="121.83" width="8.4" height="3.4" fill="#f1c873" stroke="#cfa566" stroke-width="0.5"/>
<text x="42.90" y="139.84" font-size="7.6" fill="#000" textLength="63.10" lengthAdjust="spacingAndGlyphs">TISHIP (NHIA)</text>
<text x="170.98" y="139.65" font-size="7.6" fill="#000" textLength="42.22" lengthAdjust="spacingAndGlyphs">1,796,110</text>
<text x="241.91" y="139.65" font-size="7.6" fill="#000" textLength="42.94" lengthAdjust="spacingAndGlyphs">1,781,101</text>
<path transform="translate(223.00 136.65)" d="M-1.5 -3.0 L-1.5 -0.9 L-3.9 -1.7 L-3.9 0.2 L-0.9 3.2 L0.9 3.2 L3.9 0.2 L3.9 -1.7 L1.5 -0.9 L1.5 -3.0 Z" fill="#e4553a" stroke="#b9492c" stroke-width="0.5" stroke-linejoin="round"/>
<text x="312.86" y="139.65" font-size="7.6" fill="#000" textLength="42.94" lengthAdjust="spacingAndGlyphs">1,781,101</text>
<rect x="290.95" y="135.30" width="8.4" height="3.4" fill="#f1c873" stroke="#cfa566" stroke-width="0.5"/>
<text x="384.46" y="139.65" font-size="7.6" fill="#000" textLength="42.94" lengthAdjust="spacingAndGlyphs">1,781,101</text>
<rect x="361.90" y="135.30" width="8.4" height="3.4" fill="#f1c873" stroke="#cfa566" stroke-width="0.5"/>
<text x="456.86" y="139.65" font-size="7.6" fill="#000" textLength="42.94" lengthAdjust="spacingAndGlyphs">1,781,101</text>
<rect x="433.50" y="135.30" width="8.4" height="3.4" fill="#f1c873" stroke="#cfa566" stroke-width="0.5"/>
<text x="529.56" y="139.65" font-size="7.6" fill="#000" textLength="42.94" lengthAdjust="spacingAndGlyphs">1,781,101</text>
<rect x="505.90" y="135.30" width="8.4" height="3.4" fill="#f1c873" stroke="#cfa566" stroke-width="0.5"/>
<text x="42.90" y="148.82" font-size="7.6" fill="#000" textLength="72.40" lengthAdjust="spacingAndGlyphs">NHIA CBHI/MHA</text>
<text x="178.31" y="148.63" font-size="7.6" fill="#000" textLength="34.89" lengthAdjust="spacingAndGlyphs">285,967</text>
<text x="249.96" y="148.63" font-size="7.6" fill="#000" textLength="34.89" lengthAdjust="spacingAndGlyphs">285,967</text>
<rect x="219.30" y="144.28" width="8.4" height="3.4" fill="#f1c873" stroke="#cfa566" stroke-width="0.5"/>
<text x="320.91" y="148.63" font-size="7.6" fill="#000" textLength="34.89" lengthAdjust="spacingAndGlyphs">342,897</text>
<path transform="translate(294.75 145.83)" d="M-1.5 3.3 L-1.5 0.9 L-3.7 1.6 L-3.7 -0.2 L-1.0 -3.2 L1.0 -3.2 L3.7 -0.2 L3.7 1.6 L1.5 0.9 L1.5 3.3 Z" fill="#3fa483" stroke="#3a8f78" stroke-width="0.5" stroke-linejoin="round"/>
<text x="392.51" y="148.63" font-size="7.6" fill="#000" textLength="34.89" lengthAdjust="spacingAndGlyphs">342,897</text>
<rect x="361.90" y="144.28" width="8.4" height="3.4" fill="#f1c873" stroke="#cfa566" stroke-width="0.5"/>
<text x="464.91" y="148.63" font-size="7.6" fill="#000" textLength="34.89" lengthAdjust="spacingAndGlyphs">342,897</text>
<rect x="433.50" y="144.28" width="8.4" height="3.4" fill="#f1c873" stroke="#cfa566" stroke-width="0.5"/>
<text x="537.61" y="148.63" font-size="7.6" fill="#000" textLength="34.89" lengthAdjust="spacingAndGlyphs">342,897</text>
<rect x="505.90" y="144.28" width="8.4" height="3.4" fill="#f1c873" stroke="#cfa566" stroke-width="0.5"/>
<text x="42.90" y="157.40" font-size="7.6" fill="#000" textLength="93.87" lengthAdjust="spacingAndGlyphs">Formal Sector (States</text>
<text x="42.90" y="166.38" font-size="7.6" fill="#000" textLength="86.90" lengthAdjust="spacingAndGlyphs">&amp; LGAs Employees)</text>
<text x="170.26" y="162.10" font-size="7.6" fill="#000" textLength="42.94" lengthAdjust="spacingAndGlyphs">3,102,419</text>
<text x="241.91" y="162.10" font-size="7.6" fill="#000" textLength="42.94" lengthAdjust="spacingAndGlyphs">3,507,423</text>
<path transform="translate(223.10 159.30)" d="M-1.5 3.3 L-1.5 0.9 L-3.7 1.6 L-3.7 -0.2 L-1.0 -3.2 L1.0 -3.2 L3.7 -0.2 L3.7 1.6 L1.5 0.9 L1.5 3.3 Z" fill="#3fa483" stroke="#3a8f78" stroke-width="0.5" stroke-linejoin="round"/>
<text x="312.86" y="162.10" font-size="7.6" fill="#000" textLength="42.94" lengthAdjust="spacingAndGlyphs">3,652,841</text>
<path transform="translate(294.75 159.30)" d="M-1.5 3.3 L-1.5 0.9 L-3.7 1.6 L-3.7 -0.2 L-1.0 -3.2 L1.0 -3.2 L3.7 -0.2 L3.7 1.6 L1.5 0.9 L1.5 3.3 Z" fill="#3fa483" stroke="#3a8f78" stroke-width="0.5" stroke-linejoin="round"/>
<text x="384.46" y="162.10" font-size="7.6" fill="#000" textLength="42.94" lengthAdjust="spacingAndGlyphs">3,652,841</text>
<rect x="361.90" y="157.75" width="8.4" height="3.4" fill="#f1c873" stroke="#cfa566" stroke-width="0.5"/>
<text x="456.86" y="162.10" font-size="7.6" fill="#000" textLength="42.94" lengthAdjust="spacingAndGlyphs">3,567,140</text>
<path transform="translate(437.20 159.10)" d="M-1.5 -3.0 L-1.5 -0.9 L-3.9 -1.7 L-3.9 0.2 L-0.9 3.2 L0.9 3.2 L3.9 0.2 L3.9 -1.7 L1.5 -0.9 L1.5 -3.0 Z" fill="#e4553a" stroke="#b9492c" stroke-width="0.5" stroke-linejoin="round"/>
<text x="529.56" y="162.10" font-size="7.6" fill="#000" textLength="42.94" lengthAdjust="spacingAndGlyphs">3,538,278</text>
<path transform="translate(509.60 159.10)" d="M-1.5 -3.0 L-1.5 -0.9 L-3.9 -1.7 L-3.9 0.2 L-0.9 3.2 L0.9 3.2 L3.9 0.2 L3.9 -1.7 L1.5 -0.9 L1.5 -3.0 Z" fill="#e4553a" stroke="#b9492c" stroke-width="0.5" stroke-linejoin="round"/>
<text x="42.90" y="175.76" font-size="7.6" fill="#000" textLength="65.44" lengthAdjust="spacingAndGlyphs">Informal Sector</text>
<text x="178.31" y="175.57" font-size="7.6" fill="#000" textLength="34.89" lengthAdjust="spacingAndGlyphs">627,730</text>
<text x="249.96" y="175.57" font-size="7.6" fill="#000" textLength="34.89" lengthAdjust="spacingAndGlyphs">687,614</text>
<path transform="translate(223.10 172.77)" d="M-1.5 3.3 L-1.5 0.9 L-3.7 1.6 L-3.7 -0.2 L-1.0 -3.2 L1.0 -3.2 L3.7 -0.2 L3.7 1.6 L1.5 0.9 L1.5 3.3 Z" fill="#3fa483" stroke="#3a8f78" stroke-width="0.5" stroke-linejoin="round"/>
<text x="321.63" y="175.57" font-size="7.6" fill="#000" textLength="34.17" lengthAdjust="spacingAndGlyphs">909,115</text>
<path transform="translate(294.75 172.77)" d="M-1.5 3.3 L-1.5 0.9 L-3.7 1.6 L-3.7 -0.2 L-1.0 -3.2 L1.0 -3.2 L3.7 -0.2 L3.7 1.6 L1.5 0.9 L1.5 3.3 Z" fill="#3fa483" stroke="#3a8f78" stroke-width="0.5" stroke-linejoin="round"/>
<text x="393.23" y="175.57" font-size="7.6" fill="#000" textLength="34.17" lengthAdjust="spacingAndGlyphs">909,115</text>
<rect x="361.90" y="171.22" width="8.4" height="3.4" fill="#f1c873" stroke="#cfa566" stroke-width="0.5"/>
<text x="464.91" y="175.57" font-size="7.6" fill="#000" textLength="34.89" lengthAdjust="spacingAndGlyphs">796,597</text>
<path transform="translate(437.20 172.57)" d="M-1.5 -3.0 L-1.5 -0.9 L-3.9 -1.7 L-3.9 0.2 L-0.9 3.2 L0.9 3.2 L3.9 0.2 L3.9 -1.7 L1.5 -0.9 L1.5 -3.0 Z" fill="#e4553a" stroke="#b9492c" stroke-width="0.5" stroke-linejoin="round"/>
<text x="538.33" y="175.57" font-size="7.6" fill="#000" textLength="34.17" lengthAdjust="spacingAndGlyphs">840,511</text>
<path transform="translate(509.70 172.77)" d="M-1.5 3.3 L-1.5 0.9 L-3.7 1.6 L-3.7 -0.2 L-1.0 -3.2 L1.0 -3.2 L3.7 -0.2 L3.7 1.6 L1.5 0.9 L1.5 3.3 Z" fill="#3fa483" stroke="#3a8f78" stroke-width="0.5" stroke-linejoin="round"/>
<text x="42.90" y="184.74" font-size="7.6" fill="#000" textLength="80.27" lengthAdjust="spacingAndGlyphs">TISHIP (SSHIASs)</text>
<text x="178.31" y="184.55" font-size="7.6" fill="#000" textLength="34.89" lengthAdjust="spacingAndGlyphs">244,078</text>
<text x="249.96" y="184.55" font-size="7.6" fill="#000" textLength="34.89" lengthAdjust="spacingAndGlyphs">273,606</text>
<path transform="translate(223.10 181.75)" d="M-1.5 3.3 L-1.5 0.9 L-3.7 1.6 L-3.7 -0.2 L-1.0 -3.2 L1.0 -3.2 L3.7 -0.2 L3.7 1.6 L1.5 0.9 L1.5 3.3 Z" fill="#3fa483" stroke="#3a8f78" stroke-width="0.5" stroke-linejoin="round"/>
<text x="320.91" y="184.55" font-size="7.6" fill="#000" textLength="34.89" lengthAdjust="spacingAndGlyphs">334,413</text>
<path transform="translate(294.75 181.75)" d="M-1.5 3.3 L-1.5 0.9 L-3.7 1.6 L-3.7 -0.2 L-1.0 -3.2 L1.0 -3.2 L3.7 -0.2 L3.7 1.6 L1.5 0.9 L1.5 3.3 Z" fill="#3fa483" stroke="#3a8f78" stroke-width="0.5" stroke-linejoin="round"/>
<text x="392.51" y="184.55" font-size="7.6" fill="#000" textLength="34.89" lengthAdjust="spacingAndGlyphs">334,413</text>
<rect x="361.90" y="180.20" width="8.4" height="3.4" fill="#f1c873" stroke="#cfa566" stroke-width="0.5"/>
<text x="464.91" y="184.55" font-size="7.6" fill="#000" textLength="34.89" lengthAdjust="spacingAndGlyphs">400,546</text>
<path transform="translate(437.30 181.75)" d="M-1.5 3.3 L-1.5 0.9 L-3.7 1.6 L-3.7 -0.2 L-1.0 -3.2 L1.0 -3.2 L3.7 -0.2 L3.7 1.6 L1.5 0.9 L1.5 3.3 Z" fill="#3fa483" stroke="#3a8f78" stroke-width="0.5" stroke-linejoin="round"/>
<text x="537.61" y="184.55" font-size="7.6" fill="#000" textLength="34.89" lengthAdjust="spacingAndGlyphs">469,653</text>
<path transform="translate(509.70 181.75)" d="M-1.5 3.3 L-1.5 0.9 L-3.7 1.6 L-3.7 -0.2 L-1.0 -3.2 L1.0 -3.2 L3.7 -0.2 L3.7 1.6 L1.5 0.9 L1.5 3.3 Z" fill="#3fa483" stroke="#3a8f78" stroke-width="0.5" stroke-linejoin="round"/>
<text x="42.90" y="193.72" font-size="7.6" fill="#000" textLength="32.71" lengthAdjust="spacingAndGlyphs">BHCPF</text>
<text x="170.26" y="193.53" font-size="7.6" fill="#000" textLength="42.94" lengthAdjust="spacingAndGlyphs">2,309,600</text>
<text x="241.91" y="193.53" font-size="7.6" fill="#000" textLength="42.94" lengthAdjust="spacingAndGlyphs">2,772,906</text>
<path transform="translate(223.10 190.73)" d="M-1.5 3.3 L-1.5 0.9 L-3.7 1.6 L-3.7 -0.2 L-1.0 -3.2 L1.0 -3.2 L3.7 -0.2 L3.7 1.6 L1.5 0.9 L1.5 3.3 Z" fill="#3fa483" stroke="#3a8f78" stroke-width="0.5" stroke-linejoin="round"/>
<text x="312.86" y="193.53" font-size="7.6" fill="#000" textLength="42.94" lengthAdjust="spacingAndGlyphs">2,401,776</text>
<path transform="translate(294.65 190.53)" d="M-1.5 -3.0 L-1.5 -0.9 L-3.9 -1.7 L-3.9 0.2 L-0.9 3.2 L0.9 3.2 L3.9 0.2 L3.9 -1.7 L1.5 -0.9 L1.5 -3.0 Z" fill="#e4553a" stroke="#b9492c" stroke-width="0.5" stroke-linejoin="round"/>
<text x="384.46" y="193.53" font-size="7.6" fill="#000" textLength="42.94" lengthAdjust="spacingAndGlyphs">2,401,776</text>
<rect x="361.90" y="189.18" width="8.4" height="3.4" fill="#f1c873" stroke="#cfa566" stroke-width="0.5"/>
<text x="456.86" y="193.53" font-size="7.6" fill="#000" textLength="42.94" lengthAdjust="spacingAndGlyphs">2,597,312</text>
<path transform="translate(437.30 190.73)" d="M-1.5 3.3 L-1.5 0.9 L-3.7 1.6 L-3.7 -0.2 L-1.0 -3.2 L1.0 -3.2 L3.7 -0.2 L3.7 1.6 L1.5 0.9 L1.5 3.3 Z" fill="#3fa483" stroke="#3a8f78" stroke-width="0.5" stroke-linejoin="round"/>
<text x="529.56" y="193.53" font-size="7.6" fill="#000" textLength="42.94" lengthAdjust="spacingAndGlyphs">2,673,175</text>
<path transform="translate(509.70 190.73)" d="M-1.5 3.3 L-1.5 0.9 L-3.7 1.6 L-3.7 -0.2 L-1.0 -3.2 L1.0 -3.2 L3.7 -0.2 L3.7 1.6 L1.5 0.9 L1.5 3.3 Z" fill="#3fa483" stroke="#3a8f78" stroke-width="0.5" stroke-linejoin="round"/>
<text x="42.90" y="202.70" font-size="7.6" fill="#000" textLength="51.51" lengthAdjust="spacingAndGlyphs">Equity Fund</text>
<text x="170.26" y="202.51" font-size="7.6" fill="#000" textLength="42.94" lengthAdjust="spacingAndGlyphs">1,823,968</text>
<text x="241.91" y="202.51" font-size="7.6" fill="#000" textLength="42.94" lengthAdjust="spacingAndGlyphs">2,617,782</text>
<path transform="translate(223.10 199.71)" d="M-1.5 3.3 L-1.5 0.9 L-3.7 1.6 L-3.7 -0.2 L-1.0 -3.2 L1.0 -3.2 L3.7 -0.2 L3.7 1.6 L1.5 0.9 L1.5 3.3 Z" fill="#3fa483" stroke="#3a8f78" stroke-width="0.5" stroke-linejoin="round"/>
<text x="313.58" y="202.51" font-size="7.6" fill="#000" textLength="42.22" lengthAdjust="spacingAndGlyphs">2,896,110</text>
<path transform="translate(294.75 199.71)" d="M-1.5 3.3 L-1.5 0.9 L-3.7 1.6 L-3.7 -0.2 L-1.0 -3.2 L1.0 -3.2 L3.7 -0.2 L3.7 1.6 L1.5 0.9 L1.5 3.3 Z" fill="#3fa483" stroke="#3a8f78" stroke-width="0.5" stroke-linejoin="round"/>
<text x="385.18" y="202.51" font-size="7.6" fill="#000" textLength="42.22" lengthAdjust="spacingAndGlyphs">2,896,110</text>
<rect x="361.90" y="198.16" width="8.4" height="3.4" fill="#f1c873" stroke="#cfa566" stroke-width="0.5"/>
<text x="456.86" y="202.51" font-size="7.6" fill="#000" textLength="42.94" lengthAdjust="spacingAndGlyphs">3,178,866</text>
<path transform="translate(437.30 199.71)" d="M-1.5 3.3 L-1.5 0.9 L-3.7 1.6 L-3.7 -0.2 L-1.0 -3.2 L1.0 -3.2 L3.7 -0.2 L3.7 1.6 L1.5 0.9 L1.5 3.3 Z" fill="#3fa483" stroke="#3a8f78" stroke-width="0.5" stroke-linejoin="round"/>
<text x="529.56" y="202.51" font-size="7.6" fill="#000" textLength="42.94" lengthAdjust="spacingAndGlyphs">3,498,699</text>
<path transform="translate(509.70 199.71)" d="M-1.5 3.3 L-1.5 0.9 L-3.7 1.6 L-3.7 -0.2 L-1.0 -3.2 L1.0 -3.2 L3.7 -0.2 L3.7 1.6 L1.5 0.9 L1.5 3.3 Z" fill="#3fa483" stroke="#3a8f78" stroke-width="0.5" stroke-linejoin="round"/>
<text x="42.90" y="215.98" font-size="7.6" fill="#000" textLength="88.73" lengthAdjust="spacingAndGlyphs">HMO's Private Plans</text>
<text x="170.26" y="215.98" font-size="7.6" fill="#000" textLength="42.94" lengthAdjust="spacingAndGlyphs">1,710,639</text>
<text x="241.91" y="215.98" font-size="7.6" fill="#000" textLength="42.94" lengthAdjust="spacingAndGlyphs">1,843,453</text>
<path transform="translate(223.10 213.18)" d="M-1.5 3.3 L-1.5 0.9 L-3.7 1.6 L-3.7 -0.2 L-1.0 -3.2 L1.0 -3.2 L3.7 -0.2 L3.7 1.6 L1.5 0.9 L1.5 3.3 Z" fill="#3fa483" stroke="#3a8f78" stroke-width="0.5" stroke-linejoin="round"/>
<text x="312.86" y="215.98" font-size="7.6" fill="#000" textLength="42.94" lengthAdjust="spacingAndGlyphs">1,820,897</text>
<path transform="translate(294.65 212.98)" d="M-1.5 -3.0 L-1.5 -0.9 L-3.9 -1.7 L-3.9 0.2 L-0.9 3.2 L0.9 3.2 L3.9 0.2 L3.9 -1.7 L1.5 -0.9 L1.5 -3.0 Z" fill="#e4553a" stroke="#b9492c" stroke-width="0.5" stroke-linejoin="round"/>
<text x="384.46" y="215.98" font-size="7.6" fill="#000" textLength="42.94" lengthAdjust="spacingAndGlyphs">1,843,009</text>
<path transform="translate(365.70 213.18)" d="M-1.5 3.3 L-1.5 0.9 L-3.7 1.6 L-3.7 -0.2 L-1.0 -3.2 L1.0 -3.2 L3.7 -0.2 L3.7 1.6 L1.5 0.9 L1.5 3.3 Z" fill="#3fa483" stroke="#3a8f78" stroke-width="0.5" stroke-linejoin="round"/>
<text x="456.86" y="215.98" font-size="7.6" fill="#000" textLength="42.94" lengthAdjust="spacingAndGlyphs">1,823,145</text>
<path transform="translate(437.20 212.98)" d="M-1.5 -3.0 L-1.5 -0.9 L-3.9 -1.7 L-3.9 0.2 L-0.9 3.2 L0.9 3.2 L3.9 0.2 L3.9 -1.7 L1.5 -0.9 L1.5 -3.0 Z" fill="#e4553a" stroke="#b9492c" stroke-width="0.5" stroke-linejoin="round"/>
<text x="529.56" y="215.98" font-size="7.6" fill="#000" textLength="42.94" lengthAdjust="spacingAndGlyphs">1,809,957</text>
<path transform="translate(509.60 212.98)" d="M-1.5 -3.0 L-1.5 -0.9 L-3.9 -1.7 L-3.9 0.2 L-0.9 3.2 L0.9 3.2 L3.9 0.2 L3.9 -1.7 L1.5 -0.9 L1.5 -3.0 Z" fill="#e4553a" stroke="#b9492c" stroke-width="0.5" stroke-linejoin="round"/>
<text x="71.46" y="229.56" font-size="7.8999999999999995" font-weight="bold" fill="#000" textLength="23.22" lengthAdjust="spacingAndGlyphs">Total</text>
<text x="162.99" y="229.56" font-size="7.8999999999999995" font-weight="bold" fill="#000" textLength="50.21" lengthAdjust="spacingAndGlyphs">16,833,091</text>
<text x="234.64" y="229.56" font-size="7.8999999999999995" font-weight="bold" fill="#000" textLength="50.21" lengthAdjust="spacingAndGlyphs">18,675,088</text>
<path transform="translate(223.10 226.76)" d="M-1.5 3.3 L-1.5 0.9 L-3.7 1.6 L-3.7 -0.2 L-1.0 -3.2 L1.0 -3.2 L3.7 -0.2 L3.7 1.6 L1.5 0.9 L1.5 3.3 Z" fill="#3fa483" stroke="#3a8f78" stroke-width="0.5" stroke-linejoin="round"/>
<text x="305.59" y="229.56" font-size="7.8999999999999995" font-weight="bold" fill="#000" textLength="50.21" lengthAdjust="spacingAndGlyphs">19,189,622</text>
<path transform="translate(294.75 226.76)" d="M-1.5 3.3 L-1.5 0.9 L-3.7 1.6 L-3.7 -0.2 L-1.0 -3.2 L1.0 -3.2 L3.7 -0.2 L3.7 1.6 L1.5 0.9 L1.5 3.3 Z" fill="#3fa483" stroke="#3a8f78" stroke-width="0.5" stroke-linejoin="round"/>
<text x="377.19" y="229.56" font-size="7.8999999999999995" font-weight="bold" fill="#000" textLength="50.21" lengthAdjust="spacingAndGlyphs">19,216,888</text>
<path transform="translate(365.70 226.76)" d="M-1.5 3.3 L-1.5 0.9 L-3.7 1.6 L-3.7 -0.2 L-1.0 -3.2 L1.0 -3.2 L3.7 -0.2 L3.7 1.6 L1.5 0.9 L1.5 3.3 Z" fill="#3fa483" stroke="#3a8f78" stroke-width="0.5" stroke-linejoin="round"/>
<text x="449.59" y="229.56" font-size="7.8999999999999995" font-weight="bold" fill="#000" textLength="50.21" lengthAdjust="spacingAndGlyphs">19,536,165</text>
<path transform="translate(437.30 226.76)" d="M-1.5 3.3 L-1.5 0.9 L-3.7 1.6 L-3.7 -0.2 L-1.0 -3.2 L1.0 -3.2 L3.7 -0.2 L3.7 1.6 L1.5 0.9 L1.5 3.3 Z" fill="#3fa483" stroke="#3a8f78" stroke-width="0.5" stroke-linejoin="round"/>
<text x="522.29" y="229.56" font-size="7.8999999999999995" font-weight="bold" fill="#000" textLength="50.21" lengthAdjust="spacingAndGlyphs">20,002,832</text>
<path transform="translate(509.70 226.76)" d="M-1.5 3.3 L-1.5 0.9 L-3.7 1.6 L-3.7 -0.2 L-1.0 -3.2 L1.0 -3.2 L3.7 -0.2 L3.7 1.6 L1.5 0.9 L1.5 3.3 Z" fill="#3fa483" stroke="#3a8f78" stroke-width="0.5" stroke-linejoin="round"/>
<text transform="translate(33.10 110.11) rotate(-90)" x="-6.80" y="0" font-size="7.3" font-weight="bold" fill="#000" textLength="13.60" lengthAdjust="spacingAndGlyphs">NHIA</text>
<text transform="translate(33.10 177.46) rotate(-90)" x="-9.40" y="0" font-size="7.3" font-weight="bold" fill="#000" textLength="18.80" lengthAdjust="spacingAndGlyphs">SSHISs</text>
<text transform="translate(33.10 213.38) rotate(-90)" x="-8.00" y="0" font-size="7.3" font-weight="bold" fill="#000" textLength="16.00" lengthAdjust="spacingAndGlyphs">HMOs</text>
<path d="M19.9 60.40H577.4M19.9 69.70H577.4M40.6 87.66H577.4M40.6 96.64H577.4M40.6 105.62H577.4M40.6 114.60H577.4M40.6 132.56H577.4M40.6 141.54H577.4M19.9 150.52H577.4M40.6 168.48H577.4M40.6 177.46H577.4M40.6 186.44H577.4M40.6 195.42H577.4M19.9 204.40H577.4M19.9 222.36H577.4M19.9 231.56H577.4M19.9 60.4V231.56M40.6 60.4V222.36M146.25 60.4V231.56M218.1 60.4V231.56M289.75 60.4V231.56M360.7 60.4V231.56M432.3 60.4V231.56M504.7 60.4V231.56M577.4 60.4V231.56" fill="none" stroke="#1c1c1c" stroke-width="0.85"/>
</g>
</svg>
</body></html>
